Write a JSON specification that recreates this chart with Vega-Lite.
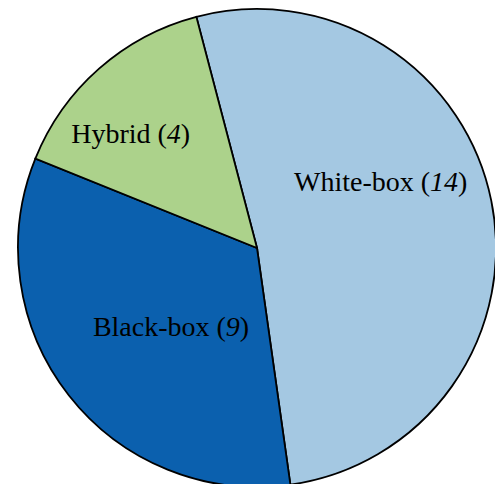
{
  "$schema": "https://vega.github.io/schema/vega-lite/v6.json",
  "width": 476,
  "height": 472,
  "autosize": {"type": "none"},
  "padding": {"left": 19, "top": 12, "right": 0, "bottom": 0},
  "background": "white",
  "config": {"view": {"stroke": null}},
  "data": {"values": [
    {"type": "White-box", "count": 14},
    {"type": "Black-box", "count": 9},
    {"type": "Hybrid", "count": 4}
  ]},
  "transform": [{"calculate": "datum.type + ' ('", "as": "prefix"}],
  "encoding": {
    "theta": {"field": "count", "type": "quantitative", "stack": true, "scale": {"range": [3.0014, 9.2846]}},
    "order": {"field": "type", "sort": "ascending"}
  },
  "layer": [
    {
      "mark": {"type": "arc", "outerRadius": 239, "stroke": "black", "strokeWidth": 1.8},
      "encoding": {
        "color": {"field": "type", "type": "nominal", "legend": null,
          "scale": {"domain": ["Black-box", "Hybrid", "White-box"], "range": ["#0b60ae", "#acd28b", "#a4c8e2"]}}
      }
    },
    {"mark": {"type": "text", "radius": 150, "align": "right", "baseline": "alphabetic", "dx": 26, "dy": -27, "font": "Liberation Serif", "fontSize": 28, "color": "black"},
     "encoding": {"text": {"condition": {"test": "datum.type === 'White-box'", "field": "prefix"}, "value": ""}}},
    {"mark": {"type": "text", "radius": 150, "align": "left", "baseline": "alphabetic", "dx": 26, "dy": -27, "font": "Liberation Serif", "fontSize": 28, "fontStyle": "italic", "color": "black"},
     "encoding": {"text": {"condition": {"test": "datum.type === 'White-box'", "field": "count", "type": "quantitative"}, "value": ""}}},
    {"mark": {"type": "text", "radius": 150, "align": "left", "baseline": "alphabetic", "dx": 54, "dy": -27, "font": "Liberation Serif", "fontSize": 28, "color": "black"},
     "encoding": {"text": {"condition": {"test": "datum.type === 'White-box'", "value": ")"}, "value": ""}}},
    {"mark": {"type": "text", "radius": 150, "align": "right", "baseline": "alphabetic", "dx": 87, "dy": -4, "font": "Liberation Serif", "fontSize": 28, "color": "black"},
     "encoding": {"text": {"condition": {"test": "datum.type === 'Black-box'", "field": "prefix"}, "value": ""}}},
    {"mark": {"type": "text", "radius": 150, "align": "left", "baseline": "alphabetic", "dx": 87, "dy": -4, "font": "Liberation Serif", "fontSize": 28, "fontStyle": "italic", "color": "black"},
     "encoding": {"text": {"condition": {"test": "datum.type === 'Black-box'", "field": "count", "type": "quantitative"}, "value": ""}}},
    {"mark": {"type": "text", "radius": 150, "align": "left", "baseline": "alphabetic", "dx": 101, "dy": -4, "font": "Liberation Serif", "fontSize": 28, "color": "black"},
     "encoding": {"text": {"condition": {"test": "datum.type === 'Black-box'", "value": ")"}, "value": ""}}},
    {"mark": {"type": "text", "radius": 150, "align": "right", "baseline": "alphabetic", "dx": 9, "dy": 8, "font": "Liberation Serif", "fontSize": 28, "color": "black"},
     "encoding": {"text": {"condition": {"test": "datum.type === 'Hybrid'", "field": "prefix"}, "value": ""}}},
    {"mark": {"type": "text", "radius": 150, "align": "left", "baseline": "alphabetic", "dx": 9, "dy": 8, "font": "Liberation Serif", "fontSize": 28, "fontStyle": "italic", "color": "black"},
     "encoding": {"text": {"condition": {"test": "datum.type === 'Hybrid'", "field": "count", "type": "quantitative"}, "value": ""}}},
    {"mark": {"type": "text", "radius": 150, "align": "left", "baseline": "alphabetic", "dx": 23, "dy": 8, "font": "Liberation Serif", "fontSize": 28, "color": "black"},
     "encoding": {"text": {"condition": {"test": "datum.type === 'Hybrid'", "value": ")"}, "value": ""}}}
  ]
}
